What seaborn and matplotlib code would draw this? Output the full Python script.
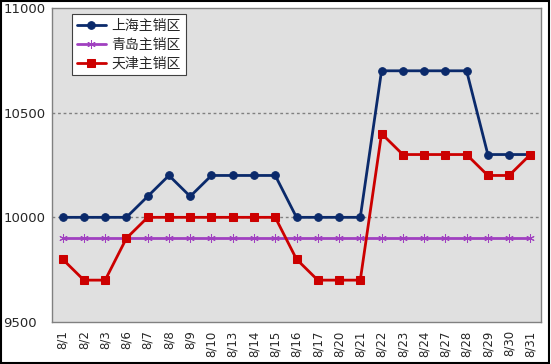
import pandas as pd
import seaborn as sns
import matplotlib.pyplot as plt
from matplotlib.patches import Rectangle
from matplotlib.ticker import FixedLocator

dates = ['8/1', '8/2', '8/3', '8/6', '8/7', '8/8', '8/9', '8/10', '8/13', '8/14', '8/15',
         '8/16', '8/17', '8/20', '8/21', '8/22', '8/23', '8/24', '8/27', '8/28', '8/29',
         '8/30', '8/31']
shanghai = [10000, 10000, 10000, 10000, 10100, 10200, 10100, 10200, 10200, 10200, 10200,
            10000, 10000, 10000, 10000, 10700, 10700, 10700, 10700, 10700, 10300, 10300, 10300]
qingdao = [9900] * 23
tianjin = [9800, 9700, 9700, 9900, 10000, 10000, 10000, 10000, 10000, 10000, 10000,
           9800, 9700, 9700, 9700, 10400, 10300, 10300, 10300, 10300, 10200, 10200, 10300]
names = ['上海主销区', '青岛主销区', '天津主销区']

sns.set_style('white')
plt.rcParams['font.family'] = ['DejaVu Sans', 'Noto Sans CJK SC']

df = pd.DataFrame({'pos': range(len(dates)), names[0]: shanghai,
                   names[1]: qingdao, names[2]: tianjin})

fig = plt.figure(figsize=(5.51, 3.64), dpi=100)
ax = fig.add_axes([52 / 551, 42 / 364, 489 / 551, 314 / 364])
ax.set_facecolor('#e0e0e0')

styles = [
    ('#0b2a6b', 'o', 5.5),
    ('#a040c0', (6, 2, 0), 6),
    ('#cc0000', 's', 5.5),
]
for name, (c, m, ms) in zip(names, styles):
    sns.lineplot(data=df, x='pos', y=name, ax=ax, color=c, marker=m, markersize=ms,
                 markeredgecolor=c, markerfacecolor=c, linewidth=2, label=name)

ax.set_xlim(-0.5, len(dates) - 0.5)
ax.set_ylim(9500, 11000)
ax.set_yticks([9500, 10000, 10500, 11000])
ax.set_yticklabels(['9500', '10000', '10500', '11000'])
for lab in ax.get_yticklabels():
    lab.set_horizontalalignment('left')
ax.tick_params(axis='y', length=0, pad=35, labelsize=9.5)
for y in [10000, 10500]:
    ax.axhline(y, color='#808080', linestyle=(0, (2, 2)), linewidth=1, zorder=0)

ax.set_xticks(range(len(dates)))
ax.set_xticklabels(dates, rotation=90, fontsize=8.5)
ax.tick_params(axis='x', length=0, pad=6)
ax.xaxis.set_minor_locator(FixedLocator([i + 0.5 for i in range(len(dates) - 1)]))
ax.tick_params(axis='x', which='minor', length=3, color='#808080', direction='in')
ax.set_xlabel('')
ax.set_ylabel('')

for s in ax.spines.values():
    s.set_color('#808080')
    s.set_linewidth(1)

leg = ax.legend(loc='upper left', bbox_to_anchor=(20 / 489, 1 - 6 / 314), frameon=True,
                fancybox=False, edgecolor='#404040', facecolor='white', framealpha=1,
                prop={'family': ['Noto Sans CJK SC'], 'size': 10},
                handlelength=2.1, borderpad=0.35, labelspacing=0.35, handletextpad=0.4,
                borderaxespad=0)
leg.get_frame().set_linewidth(0.8)

fig.patches.append(Rectangle((0.002, 0.003), 0.995, 0.994, transform=fig.transFigure,
                             fill=False, edgecolor='black', linewidth=1.5))

fig.savefig('out.png', dpi=100)
